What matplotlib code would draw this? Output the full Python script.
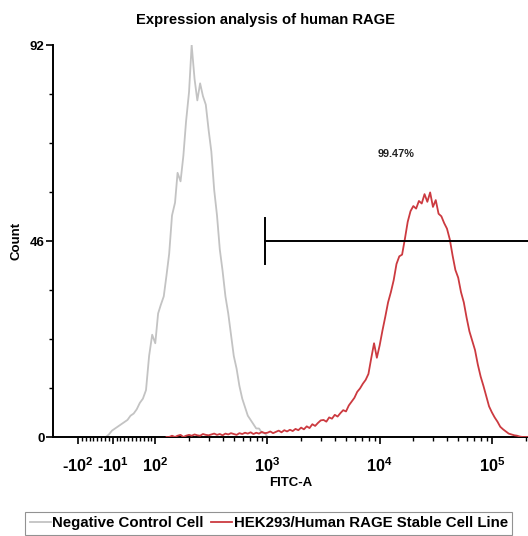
import numpy as np
import matplotlib
matplotlib.use("Agg")
import matplotlib.pyplot as plt
from matplotlib.lines import Line2D

NaN = float("nan")

# ---------------- data ----------------
fitc_bins = [
    -36, -28, -20, -12, -4, 4, 12, 20, 28, 36, 44, 52, 60, 68, 76, 84, 92,
    100, 106, 112, 119, 126, 133, 141, 150, 158, 168, 178, 188, 200, 211, 224, 237, 251, 266, 282, 299,
    316, 335, 355, 376, 398, 422, 447, 473, 501, 531, 562, 596, 631, 668, 708, 750, 794, 841, 891, 944,
    1000, 1059, 1122, 1189, 1259, 1334, 1413, 1496, 1585, 1679, 1778, 1884, 1995, 2113, 2239, 2371,
    2512, 2661, 2818, 2985, 3162, 3350, 3548, 3758, 3981, 4217, 4467, 4732, 5012, 5309, 5623, 5957,
    6310, 6683, 7079, 7499, 7943, 8414, 8913, 9441,
    10000, 10593, 11220, 11885, 12589, 13335, 14125, 14962, 15849, 16788, 17783, 18836, 19953, 21135,
    22387, 23714, 25119, 26607, 28184, 29854, 31623, 33497, 35481, 37584, 39811, 42170, 44668, 47315,
    50119, 53088, 56234, 59566, 63096, 66834, 70795, 74989, 79433, 84140, 89125, 94406,
    100000, 105925, 112202, 118850, 125893, 133352, 141254, 149624, 158489, 167880, 177828, 188365,
    199526, 211349,
]

negative_control = [
    0, 0, 0.6, 1.5, 2, 2.5, 3, 3.5, 4, 5, 5.5, 6.5, 8, 9, 11, 19, 24,
    22, 29, 31, 33, 38, 43, 52, 55, 62, 60, 66, 74, 81, 92, 84, 79, 83, 80, 78, 72,
    67, 58, 52, 44, 39, 33, 29, 24, 19, 16, 12, 9, 7, 5, 4, 3, 2, 2, 1, 1,
    0, 0, 0, 0, 0, 0, 0, 0, 0, 0, 0, 0, 0, 0, 0, 0,
    0, 0, 0, 0, 0, 0, 0, 0, 0, 0, 0, 0, 0, 0, 0, 0,
    0, 0, 0, 0, 0, 0, 0, 0,
    0, 0, 0, 0, 0, 0, 0, 0, 0, 0, 0, 0, 0, 0,
    0, 0, 0, 0, 0, 0, 0, 0, 0, 0, 0, 0, 0, 0,
    0, 0, 0, 0, 0, 0, 0, 0, 0, 0, 0, 0,
    0, 0, 0, 0, 0, 0, 0, 0, 0, 0, 0, 0, 0, 0,
]

rage_stable = [
    NaN, NaN, NaN, NaN, NaN, NaN, NaN, NaN, NaN, NaN, NaN, NaN, NaN, NaN, NaN, NaN, NaN,
    NaN, NaN, NaN, NaN, 0, 0, 0.3, 0, 0.3, 0.5, 0, 0.3, 0.5, 0.3, 0.6, 0.4, 0.3, 0.7, 0.5, 0.4,
    0.6, 0.8, 0.5, 0.7, 0.4, 0.8, 0.6, 0.9, 0.7, 0.5, 0.9, 0.7, 1.0, 0.8, 1.1, 0.7, 1.0, 0.8, 1.2, 0.9,
    1.0, 1.3, 0.9, 1.2, 1.5, 1.1, 1.6, 1.3, 1.7, 1.4, 1.9, 1.6, 2.2, 1.8, 2.5, 2.1,
    3.0, 2.6, 3.3, 3.9, 4.0, 3.6, 4.6, 4.3, 5.2, 4.8, 5.6, 6.3, 6.0, 7.4, 8.3, 9.2,
    10.6, 11.4, 12.5, 13.4, 14.8, 18.5, 22.0, 18.6,
    21.5, 25.0, 28.2, 31.6, 34.0, 36.8, 40.6, 42.4, 42.8, 46.5, 50.5, 53.0, 54.2, 53.6,
    55.4, 54.8, 57.0, 55.2, 57.4, 54.0, 55.6, 52.4, 51.8, 50.2, 48.9, 46.4, 42.6, 39.2,
    37.4, 34.0, 31.6, 28.0, 24.8, 22.6, 20.4, 17.0, 14.2, 12.0, 9.6, 7.2,
    5.8, 4.6, 3.6, 2.4, 1.8, 1.3, 0.8, 0.6, 0.4, 0.3, 0.1, 0, 0, 0,
]

series_labels = ["Negative Control Cell", "HEK293/Human RAGE Stable Cell Line"]
x_tick_values = [-100, -10, 100, 1000, 10000, 100000]
x_tick_labels = [r"-10$^{\mathbf{2}}$", r"-10$^{\mathbf{1}}$", r"10$^{\mathbf{2}}$",
                 r"10$^{\mathbf{3}}$", r"10$^{\mathbf{4}}$", r"10$^{\mathbf{5}}$"]
y_tick_values = [0, 46, 92]
gate_start = 960
gate_level = 46
gate_half_height = 5.3
gate_label = "99.47%"
gate_label_pos = (13900, 66.5)

# ---------------- style ----------------
FONT = "Liberation Sans"
plt.rcParams["font.family"] = [FONT, "DejaVu Sans"]
plt.rcParams["font.weight"] = "bold"
plt.rcParams["mathtext.fontset"] = "custom"
plt.rcParams["mathtext.bf"] = FONT + ":bold"
plt.rcParams["mathtext.rm"] = FONT + ":bold"
plt.rcParams["mathtext.it"] = FONT + ":bold"
plt.rcParams["axes.unicode_minus"] = False

GRAY = "#c3c3c3"
RED = "#cc3a40"

fig = plt.figure(figsize=(5.28, 5.36), dpi=100)
ax = fig.add_axes([53 / 528, 99 / 536, 475 / 528, 392 / 536])

ax.set_xscale("symlog", linthresh=100, linscale=0.31)
ax.set_xlim(-167, 210000)
ax.set_ylim(0, 92)

ax.plot(fitc_bins, negative_control, color=GRAY, lw=1.3, zorder=2)
ax.plot(fitc_bins, rage_stable, color=RED, lw=1.3, zorder=3)

# gate
ax.plot([gate_start, 210000], [gate_level, gate_level], color="black", lw=1.4, zorder=4,
        clip_on=False)
ax.plot([gate_start, gate_start], [gate_level - gate_half_height, gate_level + gate_half_height],
        color="black", lw=1.4, zorder=4)
ax.text(gate_label_pos[0], gate_label_pos[1], gate_label, ha="center", va="center",
        fontsize=7.8, fontweight="bold", color="#222222")

# axes styling
for s in ["top", "right"]:
    ax.spines[s].set_visible(False)
for s in ["left", "bottom"]:
    ax.spines[s].set_linewidth(1.4)
    ax.spines[s].set_color("black")

ax.set_xticks(x_tick_values)
ax.set_xticklabels(x_tick_labels, fontsize=11.8)
minor_x = ([v for v in range(-90, 100, 10) if v not in (-10,)]
           + [m * 10 ** d for d in (2, 3, 4) for m in range(2, 10)] + [200000])
ax.set_xticks(minor_x, minor=True)
ax.tick_params(axis="x", which="major", direction="out", length=5, width=1.2, pad=9)
ax.tick_params(axis="x", which="minor", direction="out", length=3, width=1.0)

ax.set_yticks(y_tick_values)
ax.set_yticklabels([str(v) for v in y_tick_values], fontsize=9.5)
ax.set_yticks([11.5, 23, 34.5, 57.5, 69, 80.5], minor=True)
ax.tick_params(axis="y", which="major", direction="out", length=5, width=1.2, pad=1)
ax.tick_params(axis="y", which="minor", direction="out", length=3, width=1.0)

ax.set_xlabel("FITC-A", fontsize=9.5, fontweight="bold", labelpad=1)
ax.set_ylabel("Count", fontsize=9.5, fontweight="bold", labelpad=5)

fig.text(0.502, 0.963, "Expression analysis of human RAGE", ha="center", va="center",
         fontsize=10.6, fontweight="bold")

handles = [Line2D([], [], color=GRAY, lw=1.3), Line2D([], [], color=RED, lw=1.3)]
leg = fig.legend(handles, series_labels, loc="center", bbox_to_anchor=(0.509, 0.024), ncol=2,
                 frameon=True, fancybox=False, edgecolor="#777777", handlelength=1.4,
                 handletextpad=0.1, columnspacing=0.5, borderpad=0.3,
                 prop={"weight": "bold", "size": 10.8})
leg.get_frame().set_linewidth(0.8)

fig.savefig("out.png", dpi=100)
